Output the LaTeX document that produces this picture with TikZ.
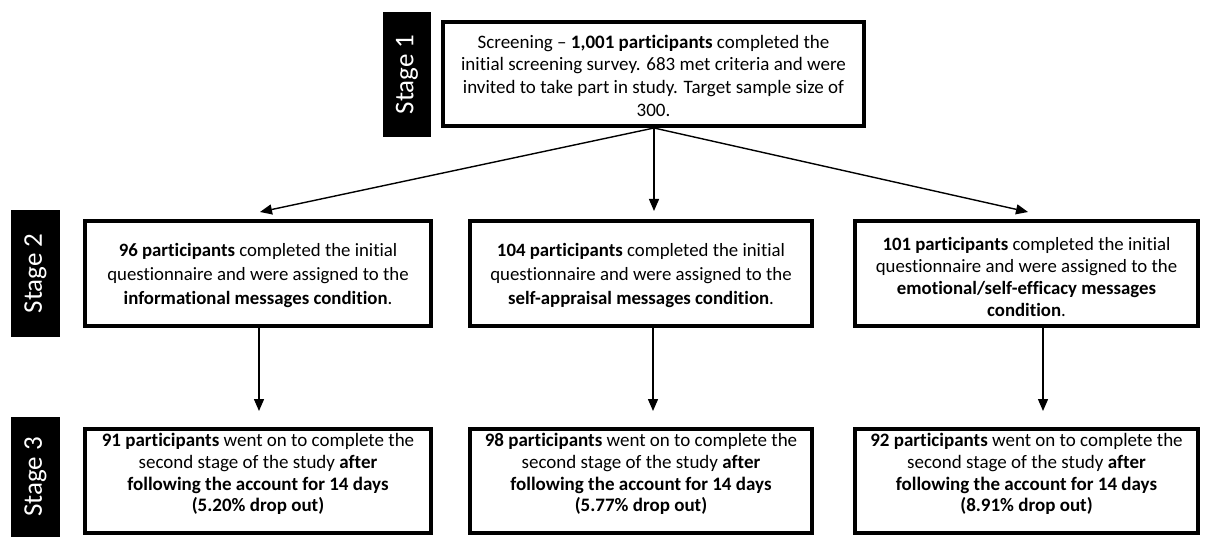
\documentclass[tikz,border=0pt]{standalone}
\usepackage{fontspec}
\setmainfont{Carlito}[Ligatures=NoCommon]
\usetikzlibrary{arrows.meta}
\tikzset{
  box/.style={draw=black, line width=4pt, fill=white, inner sep=0pt},
  txt/.style={align=center, inner sep=0pt},
  stagelabel/.style={fill=black, text=white, rotate=90, inner sep=0pt,
     font=\fontsize{27}{30}\selectfont},
  arr/.style={line width=1.4pt, -{Triangle[length=12pt,width=10pt]}}
}
\begin{document}
\begin{tikzpicture}[x=1pt,y=-1pt]
\useasboundingbox (0,0) rectangle (1207,537);
% stage labels
\node[stagelabel, minimum width=125pt, minimum height=48pt] (st1) at (407,74.5) {Stage 1};
\node[stagelabel, minimum width=127pt, minimum height=49pt] (st2) at (35.5,273.5) {Stage 2};
\node[stagelabel, minimum width=120pt, minimum height=49pt] (st3) at (35.5,477) {Stage 3};
% boxes
\node[box, minimum width=421pt, minimum height=104pt] (top) at (653.5,74) {};
\node[box, minimum width=346pt, minimum height=105pt] (s2a) at (258,273.5) {};
\node[box, minimum width=342pt, minimum height=105pt] (s2b) at (641,273.5) {};
\node[box, minimum width=343pt, minimum height=105pt] (s2c) at (1026.5,273.5) {};
\node[box, minimum width=346pt, minimum height=104pt] (s3a) at (258,481) {};
\node[box, minimum width=342pt, minimum height=104pt] (s3b) at (641,481) {};
\node[box, minimum width=343pt, minimum height=104pt] (s3c) at (1026.5,481) {};
% texts
\node[txt, font=\fontsize{19}{22.7}\selectfont] (ttop) at (653.5,75.5) {Screening -- \textbf{1,001 participants} completed the\\initial screening survey. 683 met criteria and were\\invited to take part in study. Target sample size of\\300.};
\node[txt, font=\fontsize{18.8}{24}\selectfont] (t2a) at (258,275) {\textbf{96 participants} completed the initial\\questionnaire and were assigned to the\\\textbf{informational\ messages condition}.};
\node[txt, font=\fontsize{18.8}{24}\selectfont] (t2b) at (641,275) {\textbf{104 participants} completed the initial\\questionnaire and were assigned to the\\\textbf{self-appraisal messages condition}.};
\node[txt, font=\fontsize{18.8}{22.3}\selectfont] (t2c) at (1026.5,277) {\textbf{101 participants} completed the initial\\questionnaire and were assigned to the\\\textbf{emotional/self-efficacy messages}\\\textbf{condition}.};
\node[txt, font=\fontsize{19}{21.7}\selectfont] (t3a) at (258,474) {\textbf{91 participants} went on to complete the\\second stage of the study \textbf{after}\\\textbf{following the account for 14 days}\\\textbf{(5.20\% drop out)}};
\node[txt, font=\fontsize{19}{21.7}\selectfont] (t3b) at (641,474) {\textbf{98 participants} went on to complete the\\second stage of the study \textbf{after}\\\textbf{following the account for 14 days}\\\textbf{(5.77\% drop out)}};
\node[txt, font=\fontsize{19}{21.7}\selectfont] (t3c) at (1026.5,474) {\textbf{92 participants} went on to complete the\\second stage of the study \textbf{after}\\\textbf{following the account for 14 days}\\\textbf{(8.91\% drop out)}};
% arrow end points
\coordinate (src) at (654,128);
\coordinate (e1) at (260,212);
\coordinate (e2) at (654,211);
\coordinate (e3) at (1028,212);
\coordinate (a1) at (259,327);
\coordinate (b1) at (259,411);
\coordinate (a2) at (653,327);
\coordinate (b2) at (653,411);
\coordinate (a3) at (1043,327);
\coordinate (b3) at (1043,411);
\draw[arr] (src) -- (e1);
\draw[arr] (src) -- (e2);
\draw[arr] (src) -- (e3);
\draw[arr] (a1) -- (b1);
\draw[arr] (a2) -- (b2);
\draw[arr] (a3) -- (b3);
\end{tikzpicture}
\end{document}
